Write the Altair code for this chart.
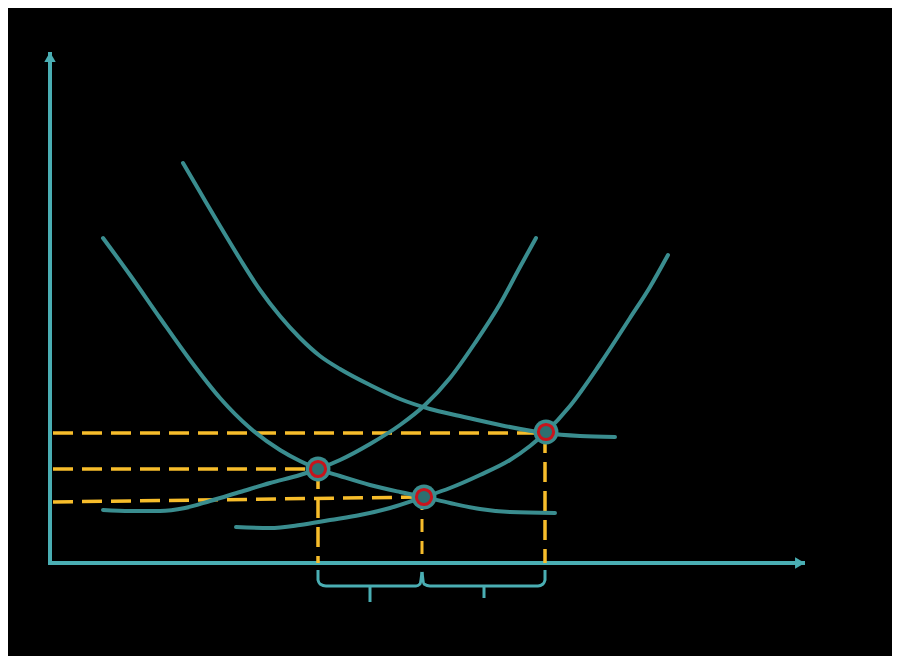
import altair as alt
import pandas as pd

# Schematic cost curves (x: quantity units, y: cost units; frame 8..892 x 8..656)
ac1_x = [103, 130, 160, 190, 220, 250, 280, 300, 318, 340, 370, 400, 424, 450, 480, 510, 555]
ac1_y = [238, 275, 318, 360, 398, 428, 450, 461, 469, 476, 485, 492, 497, 503, 509, 512, 513]

ac2_x = [183, 200, 220, 240, 260, 280, 300, 320, 340, 370, 400, 430, 460, 500, 545, 580, 615]
ac2_y = [163, 192, 226, 259, 290, 316, 338, 356, 369, 385, 399, 409, 416, 425, 433, 436, 437]

mc1_x = [103, 130, 160, 185, 210, 240, 270, 300, 318, 340, 370, 400, 425, 450, 475, 500, 520, 536]
mc1_y = [510, 511, 511, 508, 501, 492, 483, 475, 469, 460, 444, 425, 405, 378, 343, 304, 267, 238]

mc2_x = [236, 270, 300, 330, 360, 390, 424, 450, 480, 510, 530, 545, 570, 600, 630, 650, 668]
mc2_y = [527, 528, 525, 520, 515, 508, 497, 488, 475, 460, 446, 433, 406, 364, 318, 287, 255]

eq_x = [318, 424, 546]
eq_y = [469, 497, 432]

dash_x = [53, 53, 53, 318, 545]
dash_x2 = [545, 318, 424, 318, 545]
dash_y = [433, 469, 502, 469, 433]
dash_y2 = [433, 469, 497, 563, 563]
dash_mid_x = [422]
dash_mid_y = [497]
dash_mid_y2 = [563]

brace1_x = [318, 318, 320, 326, 370, 416, 420, 422]
brace1_y = [570, 580, 584, 586, 586, 586, 584, 572]
brace2_x = [422, 424, 430, 484, 538, 543, 545, 545]
brace2_y = [572, 584, 586, 586, 586, 584, 580, 570]
tick_x = [370, 484]
tick_y = [586, 586]
tick_y2 = [602, 598]

axis_x = [50, 50, 805]
axis_y = [52, 563, 563]
arrow_x = [50, 800]
arrow_y = [57, 563]
arrow_shape = ["triangle-up", "triangle-right"]

H = 664
W_DOM = [8, 892]
H_DOM = [8, 656]

def up(vals):
    return [H - v for v in vals]

xs = alt.Scale(domain=W_DOM, nice=False, zero=False)
ys = alt.Scale(domain=H_DOM, nice=False, zero=False)

def X(f="x"):
    return alt.X(f"{f}:Q", scale=xs, axis=None)

def Y(f="y"):
    return alt.Y(f"{f}:Q", scale=ys, axis=None)

curves = []
for name, cx, cy in [("ac1", ac1_x, ac1_y), ("ac2", ac2_x, ac2_y), ("mc1", mc1_x, mc1_y), ("mc2", mc2_x, mc2_y)]:
    for i, (a, b) in enumerate(zip(cx, cy)):
        curves.append({"s": name, "i": i, "x": a, "y": H - b})
curves_df = pd.DataFrame(curves)

TEAL = "#3a8d8f"
AXIS = "#4aaeb3"
GOLD = "#f7bd2b"
RED = "#c8141c"

curve_layer = alt.Chart(curves_df).mark_line(
    color=TEAL, strokeWidth=4, interpolate="monotone", strokeCap="round"
).encode(x=X(), y=Y(), detail="s:N", order="i:Q")

dash_df = pd.DataFrame({"x": dash_x, "x2": dash_x2, "y": up(dash_y), "y2": up(dash_y2)})
dash_layer = alt.Chart(dash_df).mark_rule(
    color=GOLD, strokeWidth=3.5, strokeDash=[20, 9]
).encode(x=X(), x2="x2:Q", y=Y(), y2="y2:Q")
dash_mid_df = pd.DataFrame({"x": dash_mid_x, "y": up(dash_mid_y), "y2": up(dash_mid_y2)})
dash_mid_layer = alt.Chart(dash_mid_df).mark_rule(
    color=GOLD, strokeWidth=3, strokeDash=[13, 9]
).encode(x=X(), y=Y(), y2="y2:Q")

axis_df = pd.DataFrame({"i": [0, 1, 2], "x": axis_x, "y": up(axis_y)})
axis_layer = alt.Chart(axis_df).mark_line(color=AXIS, strokeWidth=4).encode(
    x=X(), y=Y(), order="i:Q"
)
arrow_df = pd.DataFrame({"x": arrow_x, "y": up(arrow_y), "shape": arrow_shape})
arrow_layer = alt.Chart(arrow_df).mark_point(
    filled=True, color=AXIS, size=130, opacity=1
).encode(x=X(), y=Y(), shape=alt.Shape("shape:N", scale=None, legend=None))

br = []
for name, bx, by in [("b1", brace1_x, brace1_y), ("b2", brace2_x, brace2_y)]:
    for i, (a, b) in enumerate(zip(bx, by)):
        br.append({"s": name, "i": i, "x": a, "y": H - b})
brace_df = pd.DataFrame(br)
brace_layer = alt.Chart(brace_df).mark_line(
    color=AXIS, strokeWidth=3, interpolate="monotone"
).encode(x=X(), y=Y(), detail="s:N", order="i:Q")
tick_df = pd.DataFrame({"x": tick_x, "y": up(tick_y), "y2": up(tick_y2)})
tick_layer = alt.Chart(tick_df).mark_rule(color=AXIS, strokeWidth=3).encode(
    x=X(), y=Y(), y2="y2:Q"
)

eq_df = pd.DataFrame({"x": eq_x, "y": up(eq_y)})
eq_outer = alt.Chart(eq_df).mark_point(
    filled=True, color=TEAL, size=620, opacity=1
).encode(x=X(), y=Y())
eq_ring = alt.Chart(eq_df).mark_point(
    shape="circle", size=230, stroke=RED, strokeWidth=3, fill="#2c6f70", fillOpacity=1, opacity=1
).encode(x=X(), y=Y())

chart = alt.layer(
    axis_layer, arrow_layer, dash_layer, dash_mid_layer, curve_layer, brace_layer, tick_layer, eq_outer, eq_ring
).properties(
    width=884, height=648, background="black", padding=0, autosize=alt.AutoSizeParams(type="none")
).configure_view(stroke=None)

chart.save("out.html", embed_options={"renderer": "svg", "actions": False})
